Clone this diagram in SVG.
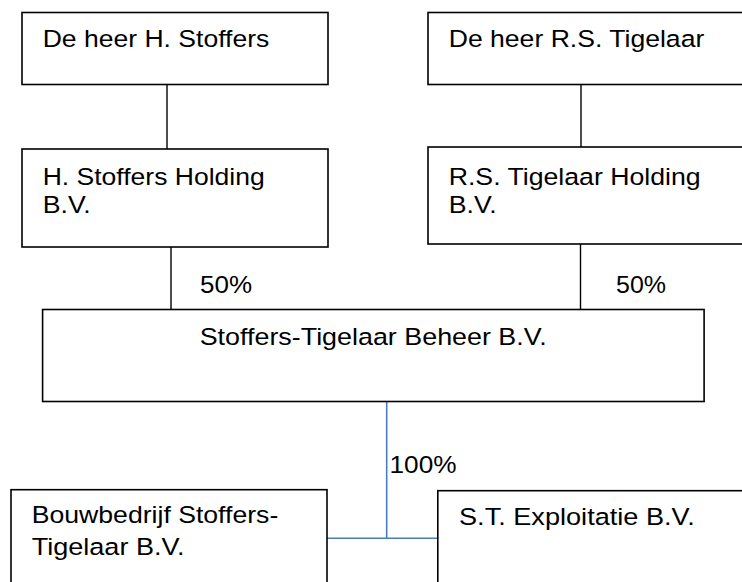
<svg xmlns="http://www.w3.org/2000/svg" width="742" height="582" viewBox="0 0 742 582">
<style>
.box{fill:#fff;stroke:#000;stroke-width:1.6}
.t{font-family:"Liberation Sans",Arial,sans-serif;font-size:24.5px;fill:#000}
.ln{stroke:#000;stroke-width:1.4;fill:none}
.bl{stroke:#4a7ebb;stroke-width:1.6;fill:none}
</style>
<rect width="742" height="582" fill="#fff"/>
<g id="connectors">
<line class="ln" x1="167" y1="84" x2="167" y2="149"/>
<line class="ln" x1="171" y1="247" x2="171" y2="309.5"/>
<line class="ln" x1="581" y1="84" x2="581" y2="147"/>
<line class="ln" x1="580.5" y1="244" x2="580.5" y2="309.5"/>
<text class="t" x="200" y="293" textLength="52" lengthAdjust="spacingAndGlyphs">50%</text>
<text class="t" x="616" y="293" textLength="50" lengthAdjust="spacingAndGlyphs">50%</text>
<polyline class="bl" points="386.7,401.7 386.7,538.3"/>
<line class="bl" x1="327" y1="538.3" x2="437.8" y2="538.3"/>
<text class="t" x="389.5" y="472.7" textLength="67" lengthAdjust="spacingAndGlyphs">100%</text>
</g>
<g id="n_stoffers">
<rect class="box" x="22" y="12.5" width="306" height="72"/>
<text class="t" x="42.7" y="47" textLength="226.6" lengthAdjust="spacingAndGlyphs">De heer H. Stoffers</text>
</g>
<g id="n_tigelaar">
<rect class="box" x="428" y="12.5" width="330" height="72"/>
<text class="t" x="448.7" y="47" textLength="255.6" lengthAdjust="spacingAndGlyphs">De heer R.S. Tigelaar</text>
</g>
<g id="n_stoffers_holding">
<rect class="box" x="22" y="149" width="306" height="98"/>
<text class="t" x="42.7" y="185" textLength="222" lengthAdjust="spacingAndGlyphs">H. Stoffers Holding</text>
<text class="t" x="42.7" y="213" textLength="48" lengthAdjust="spacingAndGlyphs">B.V.</text>
</g>
<g id="n_tigelaar_holding">
<rect class="box" x="428" y="147" width="330" height="97"/>
<text class="t" x="448.7" y="185" textLength="252" lengthAdjust="spacingAndGlyphs">R.S. Tigelaar Holding</text>
<text class="t" x="448.7" y="213" textLength="48" lengthAdjust="spacingAndGlyphs">B.V.</text>
</g>
<g id="n_beheer">
<rect class="box" x="42.6" y="309.5" width="661.5" height="92"/>
<text class="t" x="199.7" y="345" textLength="347" lengthAdjust="spacingAndGlyphs">Stoffers-Tigelaar Beheer B.V.</text>
</g>
<g id="n_bouwbedrijf">
<rect class="box" x="11" y="489.7" width="316" height="110"/>
<text class="t" x="31.7" y="523" textLength="246.6" lengthAdjust="spacingAndGlyphs">Bouwbedrijf Stoffers-</text>
<text class="t" x="31.7" y="555" textLength="152.9" lengthAdjust="spacingAndGlyphs">Tigelaar B.V.</text>
</g>
<g id="n_exploitatie">
<rect class="box" x="437.8" y="490.7" width="330" height="110"/>
<text class="t" x="459" y="525" textLength="235.7" lengthAdjust="spacingAndGlyphs">S.T. Exploitatie B.V.</text>
</g>
</svg>
